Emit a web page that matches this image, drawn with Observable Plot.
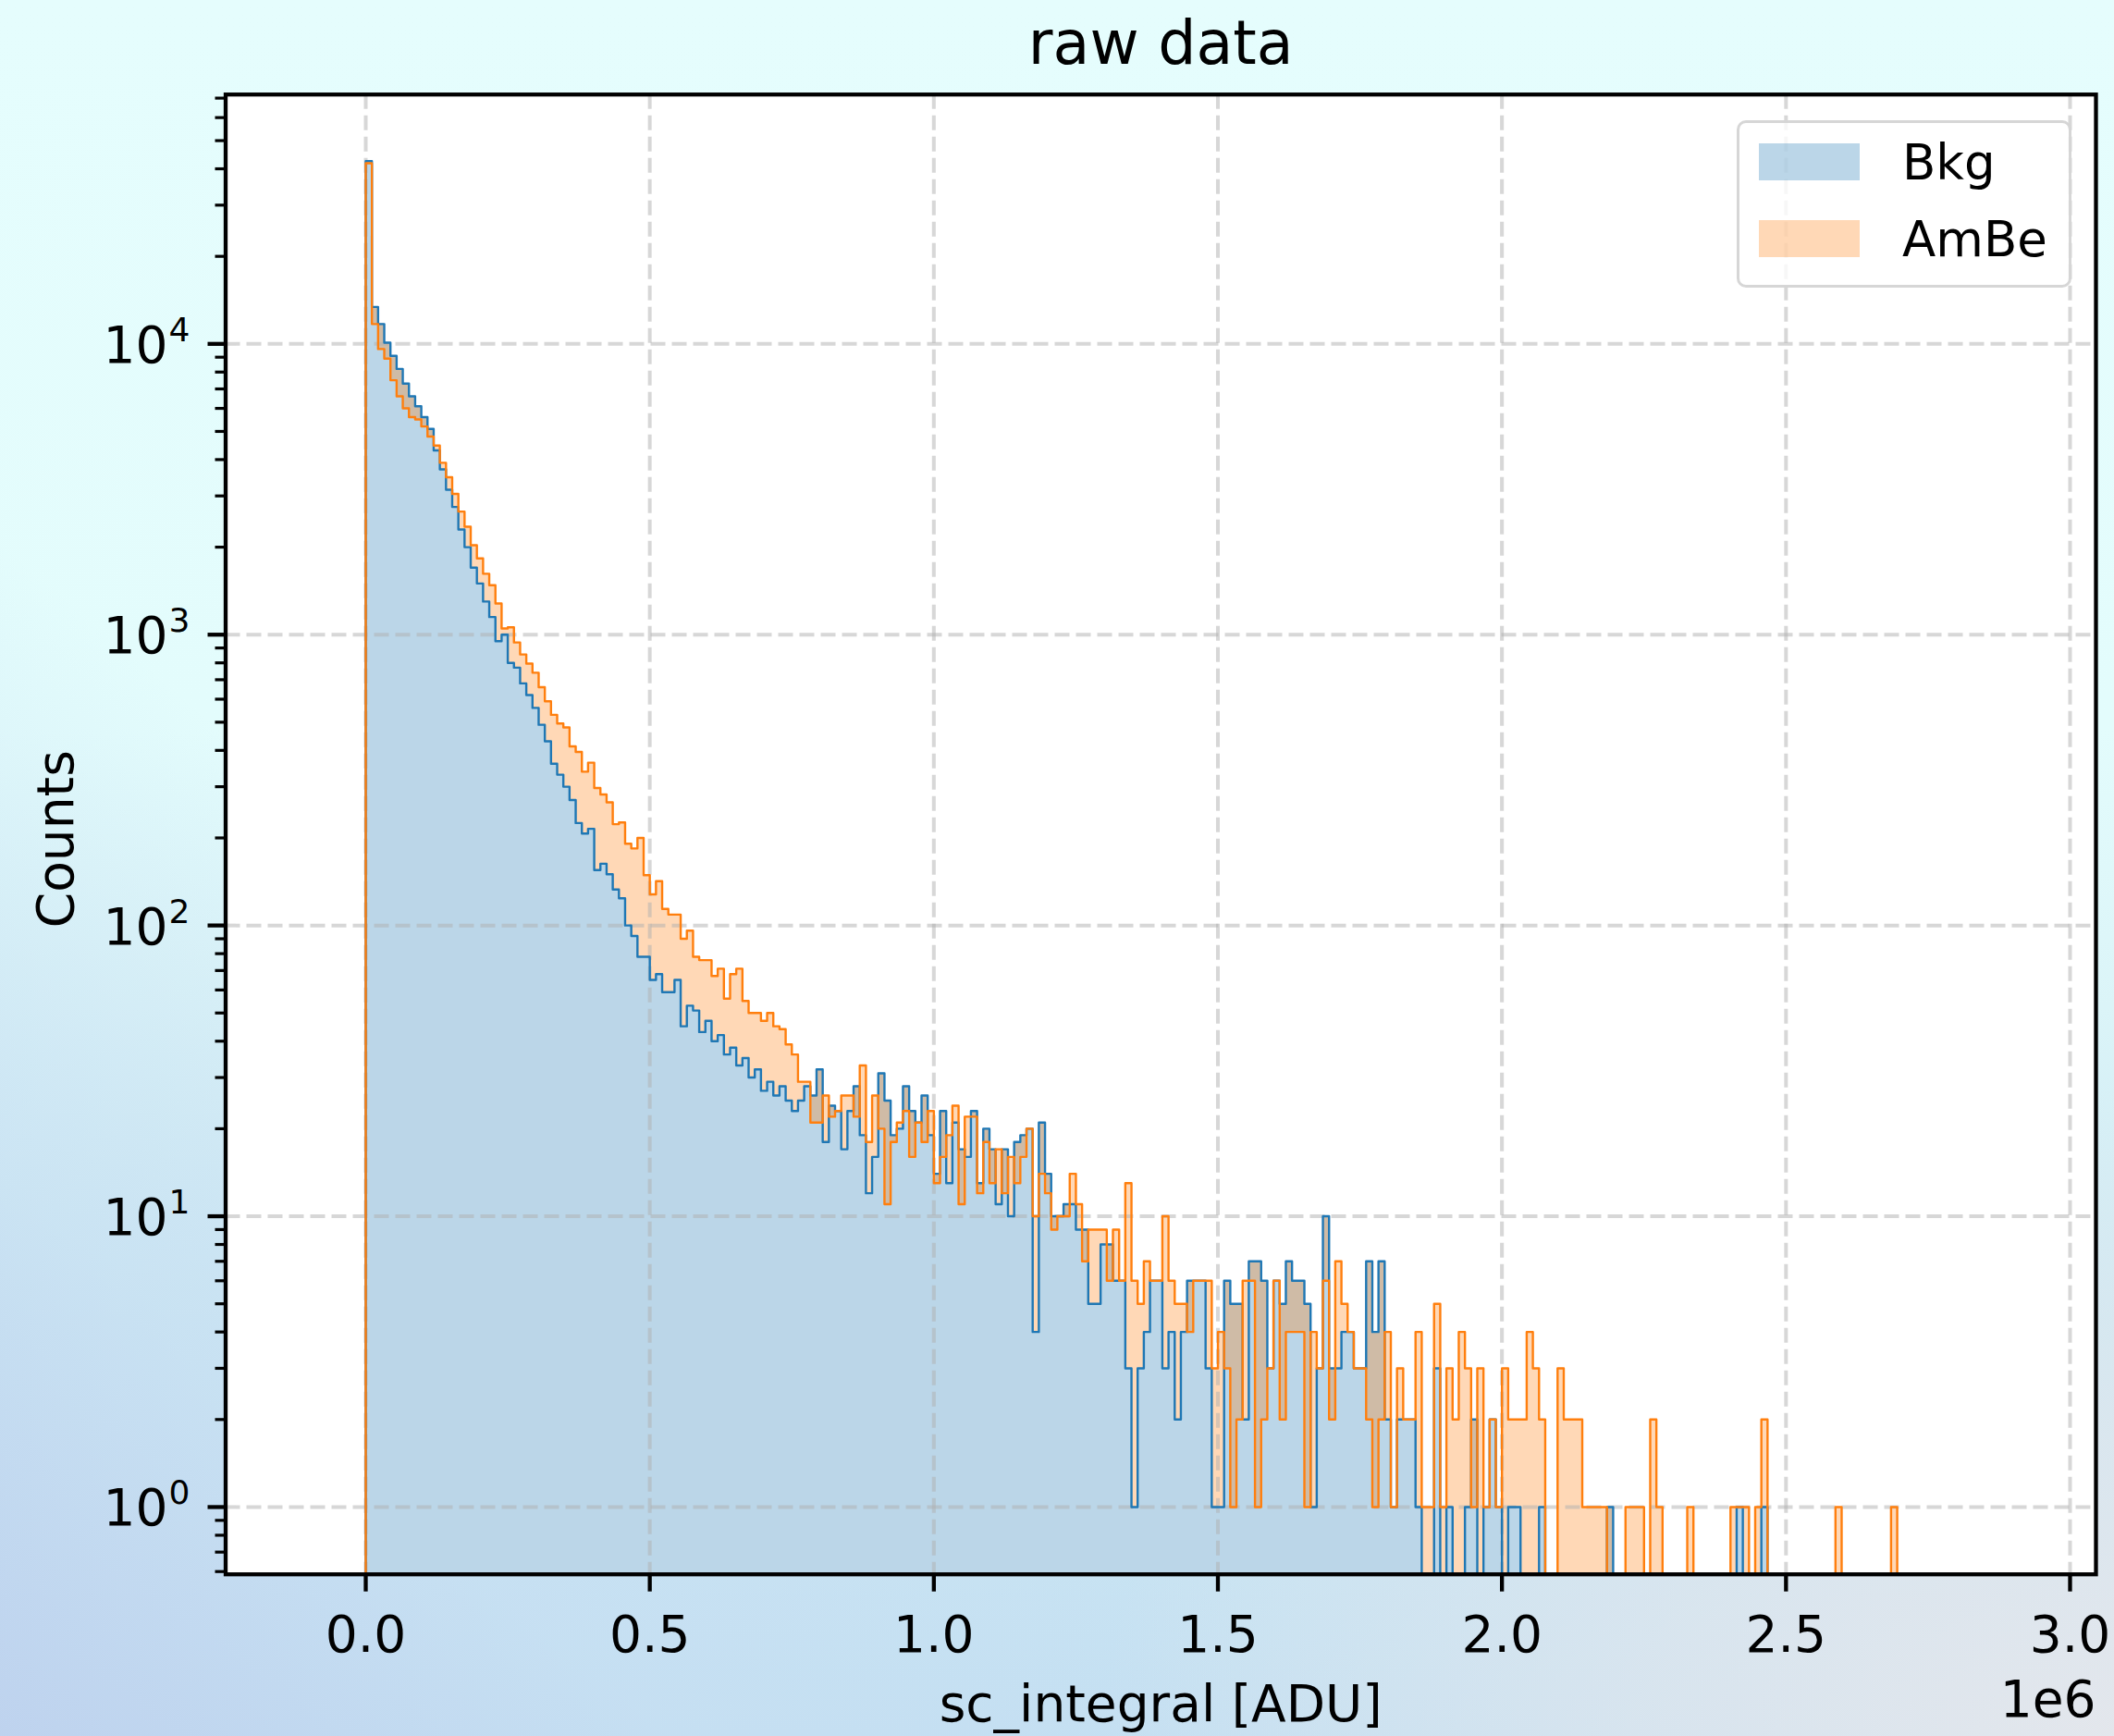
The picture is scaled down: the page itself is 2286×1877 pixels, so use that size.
<!DOCTYPE html>
<html>
<head>
<meta charset="utf-8">
<script src="https://cdn.jsdelivr.net/npm/d3@7"></script>
<script src="https://cdn.jsdelivr.net/npm/@observablehq/plot@0.6"></script>
<style>
  html, body { margin: 0; padding: 0; }
  body {
    width: 2286px; height: 1877px; overflow: hidden;
    font-family: "DejaVu Sans", sans-serif;
    background:
      radial-gradient(ellipse 1100px 700px at 100% 100%, rgba(229,231,236,0.95) 0%, rgba(229,231,236,0.6) 45%, rgba(229,231,236,0) 100%),
      linear-gradient(40deg, rgba(190,210,238,0.95) 0%, rgba(198,222,242,0.6) 16%, rgba(215,240,247,0) 34%),
      linear-gradient(180deg, #e5fdfd 0%, #e3fcfc 42%, #dbf4f8 58%, #cde8f3 76%, #c4e0f2 100%);
  }
  #chart { position: relative; width: 2286px; height: 1877px; }
  #chart svg { position: absolute; left: 0; top: 0; }
  .legend {
    position: absolute; left: 1878px; top: 130px; width: 362px; height: 181px;
    box-sizing: border-box; border: 3px solid rgba(204,204,204,0.8); border-radius: 10px;
    background: rgba(255,255,255,0.8);
  }
  .legend .swatch { position: absolute; left: 21px; width: 109px; height: 40px; }
  .legend .name { position: absolute; left: 176px; font-size: 53px; line-height: 53px; color: #000; white-space: nowrap; }
</style>
</head>
<body>
<div id="chart"></div>
<script>
// Histogram of sc_integral, counts per bin (bins start at 0 ADU)
const binWidth = 10870;
const seriesNames = ["Bkg", "AmBe"];
const seriesColors = ["#1f77b4", "#ff7f0e"];

const bkgCounts = [
  42500, 13400, 11700, 10100, 9100, 8200, 7300, 6600, 6100, 5600,
  5100, 4300, 3700, 3150, 2750, 2300, 2000, 1700, 1500, 1300,
  1150, 950, 1000, 800, 770, 680, 620, 560, 490, 430,
  360, 330, 300, 270, 225, 207, 215, 155, 163, 150,
  133, 124, 100, 92, 78, 78, 65, 68, 59, 59,
  65, 45, 53, 51, 43, 47, 40, 42, 36, 38,
  33, 35, 30, 32, 27, 29, 26, 28, 25, 23,
  25, 28, 26, 32, 18, 24, 23, 17, 23, 28,
  19, 12, 16, 31, 25, 19, 20, 28, 23, 21,
  26, 19, 14, 23, 13, 21, 17, 16, 23, 13,
  20, 17, 11, 17, 10, 18, 19, 20, 4, 21,
  14, 10, 10, 11, 11, 9, 9, 5, 5, 8,
  8, 6, 6, 3, 1, 3, 4, 6, 6, 3,
  4, 2, 4, 6, 6, 6, 3, 1, 1, 6,
  5, 5, 2, 7, 7, 6, 3, 6, 5, 7,
  6, 6, 5, 1, 3, 10, 3, 3, 4, 4,
  3, 3, 7, 4, 7, 2, 1, 2, 2, 2,
  1, 0, 0, 3, 0, 1, 0, 0, 1, 2,
  0, 1, 2, 1, 0, 1, 1, 0, 0, 0,
  1, 0, 0, 0, 0, 0, 0, 0, 0, 0,
  0, 1, 0, 0, 0, 0, 0, 0, 0, 0,
  0, 0, 0, 0, 0, 0, 0, 0, 0, 0,
  0, 0, 1, 0, 0, 0, 1
];

const ambeCounts = [
  41800, 11700, 9600, 8900, 7500, 6600, 6000, 5600, 5500, 5200,
  4800, 4470, 3900, 3480, 3050, 2650, 2350, 2030, 1830, 1620,
  1480, 1280, 1050, 1060, 940, 855, 795, 740, 660, 590,
  530, 495, 480, 413, 395, 338, 363, 297, 282, 265,
  223, 226, 191, 184, 200, 149, 128, 142, 114, 109,
  109, 90, 96, 78, 76, 76, 67, 71, 56, 68,
  71, 55, 50, 50, 47, 50, 45, 44, 39, 36,
  29, 29, 21, 21, 26, 22, 23, 26, 26, 22,
  33, 18, 26, 20, 11, 18, 21, 23, 16, 21,
  18, 23, 13, 16, 19, 24, 11, 22, 22, 12,
  18, 13, 17, 12, 16, 13, 16, 20, 10, 14,
  12, 9, 10, 10, 14, 11, 7, 9, 9, 9,
  6, 9, 6, 13, 6, 5, 7, 6, 6, 10,
  6, 5, 5, 4, 6, 6, 6, 3, 4, 3,
  1, 2, 6, 6, 1, 2, 3, 6, 2, 4,
  4, 4, 1, 4, 3, 6, 2, 7, 5, 4,
  3, 3, 2, 1, 2, 4, 1, 3, 2, 2,
  4, 1, 1, 5, 1, 3, 2, 4, 3, 1,
  3, 1, 2, 1, 3, 2, 2, 2, 4, 3,
  2, 0, 0, 3, 2, 2, 2, 1, 1, 1,
  1, 0, 0, 0, 1, 1, 1, 0, 2, 1,
  0, 0, 0, 0, 1, 0, 0, 0, 0, 0,
  0, 1, 1, 1, 0, 1, 2, 0, 0, 0,
  0, 0, 0, 0, 0, 0, 0, 0, 1, 0,
  0, 0, 0, 0, 0, 0, 0, 1
];

// Axis ticks
const xTicks = [0, 0.5e6, 1.0e6, 1.5e6, 2.0e6, 2.5e6, 3.0e6];
const yMajor = [1, 10, 100, 1000, 10000];
const yMinor = [0.6, 0.7, 0.8, 0.9,
  2, 3, 4, 5, 6, 7, 8, 9,
  20, 30, 40, 50, 60, 70, 80, 90,
  200, 300, 400, 500, 600, 700, 800, 900,
  2000, 3000, 4000, 5000, 6000, 7000, 8000, 9000,
  20000, 30000, 40000, 50000, 60000, 70000];

// Empty bins sit below the visible range and get clipped at the frame
const FLOOR = 0.05;
const lift = v => (v > 0 ? v : FLOOR);

const nBins = Math.max(bkgCounts.length, ambeCounts.length);
const steps = [{x: 0, bkg: FLOOR, ambe: FLOOR}];
for (let k = 0; k < nBins; k++) {
  steps.push({x: k * binWidth, bkg: lift(bkgCounts[k] ?? 0), ambe: lift(ambeCounts[k] ?? 0)});
}
steps.push({x: nBins * binWidth, bkg: FLOOR, ambe: FLOOR});

const grid = {stroke: "#b0b0b0", strokeOpacity: 0.5, strokeWidth: 4, strokeDasharray: "16,7"};

const chart = Plot.plot({
  width: 2286,
  height: 1877,
  marginTop: 101.7,
  marginRight: 20,
  marginBottom: 175.3,
  marginLeft: 243.5,
  style: {background: "transparent", fontFamily: "DejaVu Sans", fontSize: "55px", color: "black", overflow: "visible"},
  x: {domain: [-246600, 3045600]},
  y: {type: "log", domain: [0.587, 72030]},
  marks: [
    Plot.frame({fill: "white", stroke: "none"}),
    // Bkg filled from the bottom, AmBe filled between the two curves
    Plot.areaY(steps, {x: "x", y1: FLOOR, y2: "bkg", curve: "step-after", fill: seriesColors[0], fillOpacity: 0.3, clip: true}),
    Plot.areaY(steps, {x: "x", y1: "bkg", y2: "ambe", curve: "step-after", fill: seriesColors[1], fillOpacity: 0.3, clip: true}),
    Plot.ruleX(xTicks, {x: d => d, ...grid}),
    Plot.ruleY(yMajor, {y: d => d, ...grid}),
    Plot.lineY(steps, {x: "x", y: "bkg", curve: "step-after", stroke: seriesColors[0], strokeWidth: 2.4, clip: true}),
    Plot.lineY(steps, {x: "x", y: "ambe", curve: "step-after", stroke: seriesColors[1], strokeWidth: 2.4, clip: true}),
    Plot.frame({stroke: "black", strokeWidth: 4.3}),
    // ticks
    Plot.axisX(xTicks, {anchor: "bottom", tickSize: 19, strokeWidth: 4.3, fill: "none", label: null}),
    Plot.axisY(yMajor, {anchor: "left", tickSize: 19, strokeWidth: 4.3, fill: "none", label: null}),
    Plot.axisY(yMinor, {anchor: "left", tickSize: 11, strokeWidth: 3.2, fill: "none", label: null}),
    // tick labels
    Plot.text(xTicks, {x: d => d, text: d => (d / 1e6).toFixed(1), frameAnchor: "bottom", lineAnchor: "bottom", dy: 83.5, fontSize: 55}),
    Plot.text(yMajor, {y: d => d, text: () => "10", frameAnchor: "left", textAnchor: "end", lineAnchor: "bottom", dx: -62.5, dy: 20, fontSize: 55}),
    Plot.text(yMajor, {y: d => d, text: d => String(Math.round(Math.log10(d))), frameAnchor: "left", textAnchor: "end", lineAnchor: "bottom", dx: -38.5, dy: -3, fontSize: 36}),
    // axis labels, offset text and title
    Plot.text(["sc_integral [ADU]"], {text: d => d, frameAnchor: "bottom", lineAnchor: "bottom", dy: 158.3, fontSize: 55}),
    Plot.text(["1e6"], {text: d => d, frameAnchor: "bottom-right", textAnchor: "end", lineAnchor: "bottom", dy: 153.3, fontSize: 55}),
    Plot.text(["Counts"], {text: d => d, frameAnchor: "left", textAnchor: "middle", rotate: -90, lineAnchor: "bottom", dx: -165.5, dy: 5, fontSize: 55}),
    Plot.text(["raw data"], {text: d => d, frameAnchor: "top", lineAnchor: "bottom", dy: -33.2, fontSize: 65})
  ]
});

const root = document.getElementById("chart");
root.appendChild(chart);

// Legend
const legend = document.createElement("div");
legend.className = "legend";
seriesNames.forEach((name, i) => {
  const sw = document.createElement("div");
  sw.className = "swatch";
  sw.style.top = (22 + i * 82.7) + "px";
  sw.style.background = seriesColors[i];
  sw.style.opacity = 0.3;
  legend.appendChild(sw);
  const lab = document.createElement("div");
  lab.className = "name";
  lab.style.top = (15.5 + i * 83.4) + "px";
  lab.textContent = name;
  legend.appendChild(lab);
});
root.appendChild(legend);
</script>
</body>
</html>
